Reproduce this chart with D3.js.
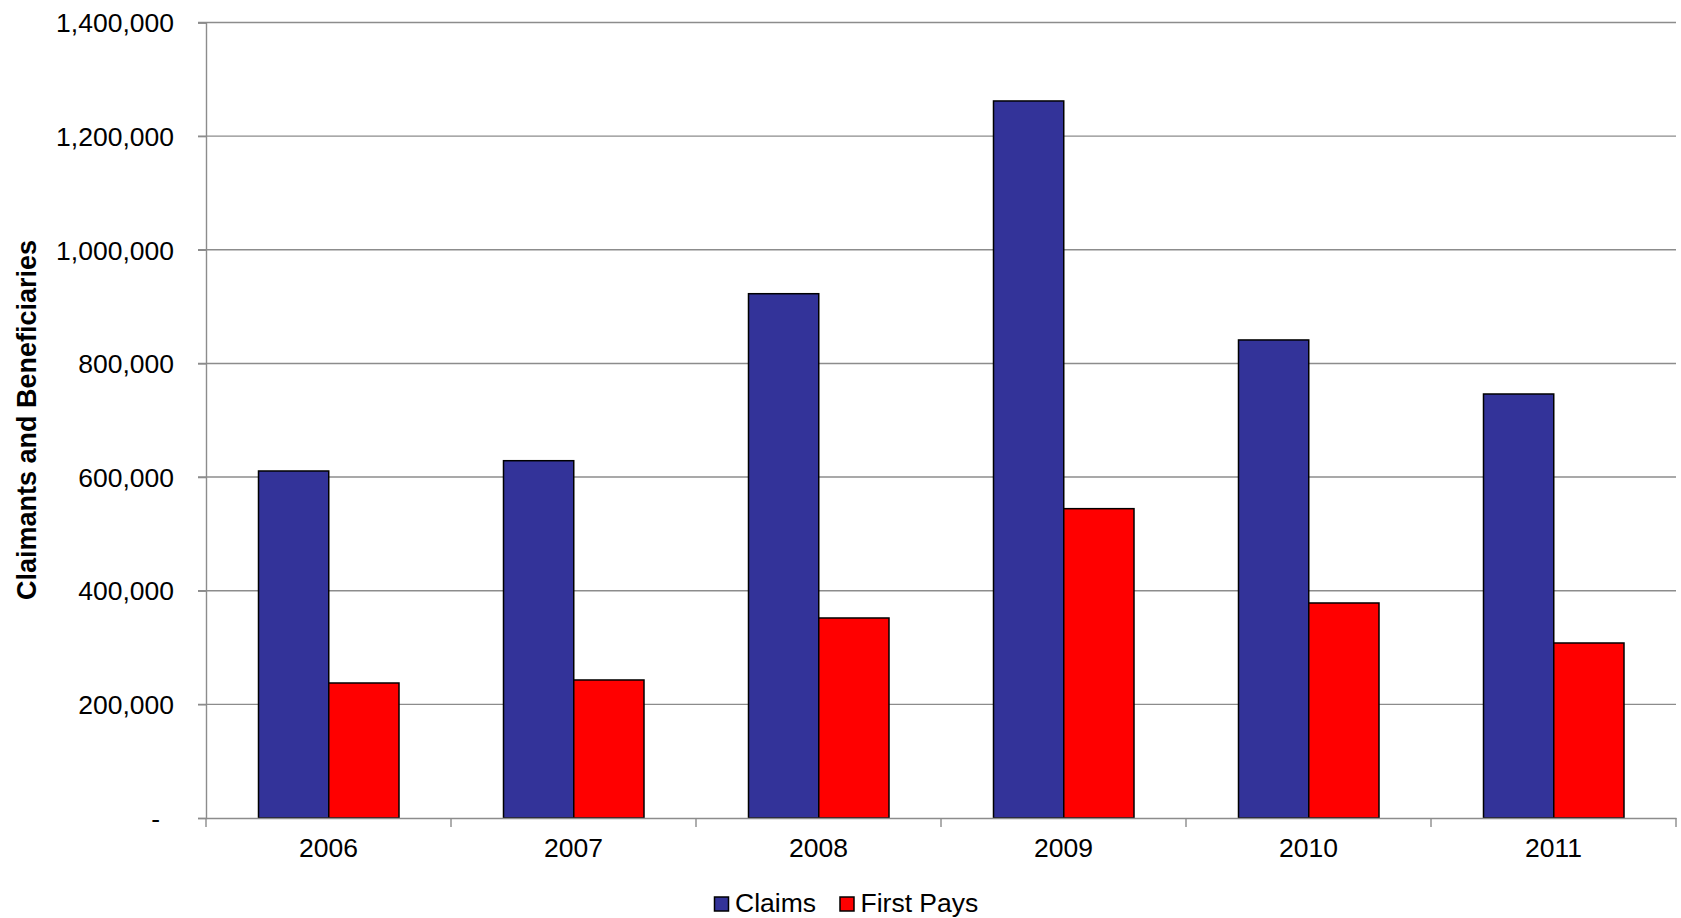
<!DOCTYPE html>
<html>
<head>
<meta charset="utf-8">
<script src="https://cdn.jsdelivr.net/npm/d3@7"></script>
<style>
html,body{margin:0;padding:0;background:#fff;}
svg text{font-family:"Liberation Sans",Arial,sans-serif;fill:#000;}
</style>
</head>
<body>
<svg id="chart" width="1681" height="918"></svg>
<script>
const years = ["2006","2007","2008","2009","2010","2011"];
const seriesNames = ["Claims","First Pays"];
const claims = [610700, 628800, 922700, 1261900, 841300, 746200];
const firstPays = [237600, 242900, 352000, 544400, 378400, 308000];
const yTicks = [0, 200000, 400000, 600000, 800000, 1000000, 1200000, 1400000];
const colors = ["#333399", "#FF0000"];

(function () {
const svg = d3.select("#chart");
const plotLeft = 206, plotRight = 1676, plotTop = 22.5, plotBottom = 818;
const fs = "26.5px";

const x = d3.scaleBand().domain(years).range([plotLeft, plotRight]).paddingInner(0).paddingOuter(0);
const x1 = d3.scaleBand().domain(seriesNames).range([52.5, 193]);
const y = d3.scaleLinear().domain([0, 1400000]).range([plotBottom, plotTop]);

// gridlines
svg.append("g").selectAll("line").data(yTicks.filter(d => d > 0)).join("line")
  .attr("x1", plotLeft - 8).attr("x2", plotRight)
  .attr("y1", d => y(d)).attr("y2", d => y(d))
  .attr("stroke", "#8c8c8c").attr("stroke-width", 1.4);

// y axis
const fmt = d3.format(",");
const yAxis = svg.append("g").attr("transform", `translate(${plotLeft},0)`)
  .call(d3.axisLeft(y).tickValues(yTicks).tickSize(8).tickPadding(24)
    .tickFormat(d => d === 0 ? "-" : fmt(d)));
yAxis.select(".domain").attr("stroke", "#8c8c8c").attr("stroke-width", 1.4);
yAxis.selectAll(".tick line").attr("stroke", "#8c8c8c").attr("stroke-width", 1.4);
yAxis.selectAll(".tick text").attr("font-size", fs).attr("dy", "0.35em")
  .attr("font-family", "Liberation Sans, Arial, sans-serif");
yAxis.selectAll(".tick text").filter(d => d === 0).attr("dx", -14);

// bars
const groups = svg.append("g").selectAll("g").data(years).join("g")
  .attr("transform", d => `translate(${x(d)},0)`);
groups.selectAll("rect").data((d, i) => [
    {s: seriesNames[0], v: claims[i], c: colors[0]},
    {s: seriesNames[1], v: firstPays[i], c: colors[1]}
  ]).join("rect")
  .attr("x", d => x1(d.s))
  .attr("width", x1.bandwidth())
  .attr("y", d => y(d.v))
  .attr("height", d => y(0) - y(d.v))
  .attr("fill", d => d.c)
  .attr("stroke", "#000").attr("stroke-width", 1.5);

// x axis
const xAxis = svg.append("g").attr("transform", `translate(0,${plotBottom})`)
  .call(d3.axisBottom(x).tickSize(0).tickPadding(20));
xAxis.select(".domain").attr("stroke", "#8c8c8c").attr("stroke-width", 1.4);
xAxis.selectAll(".tick text").attr("font-size", fs)
  .attr("font-family", "Liberation Sans, Arial, sans-serif");
// category boundary tick marks
const boundaries = years.map(d => x(d)).concat([plotRight]);
svg.append("g").selectAll("line").data(boundaries).join("line")
  .attr("x1", d => d).attr("x2", d => d)
  .attr("y1", plotBottom).attr("y2", plotBottom + 9)
  .attr("stroke", "#8c8c8c").attr("stroke-width", 1.4);

// y axis title
svg.append("text")
  .attr("transform", `translate(36,420) rotate(-90)`)
  .attr("text-anchor", "middle")
  .attr("font-size", "27px").attr("font-weight", "bold")
  .text("Claimants and Beneficiaries");

// legend
const legendItems = [
  {name: seriesNames[0], c: colors[0], x: 714.5},
  {name: seriesNames[1], c: colors[1], x: 840}
];
const lg = svg.append("g");
lg.selectAll("rect").data(legendItems).join("rect")
  .attr("x", d => d.x).attr("y", 897).attr("width", 14).attr("height", 14)
  .attr("fill", d => d.c).attr("stroke", "#000").attr("stroke-width", 1.5);
lg.selectAll("text").data(legendItems).join("text")
  .attr("x", d => d.x + 20.5).attr("y", 912)
  .attr("font-size", fs)
  .text(d => d.name);
})();
</script>
</body>
</html>
